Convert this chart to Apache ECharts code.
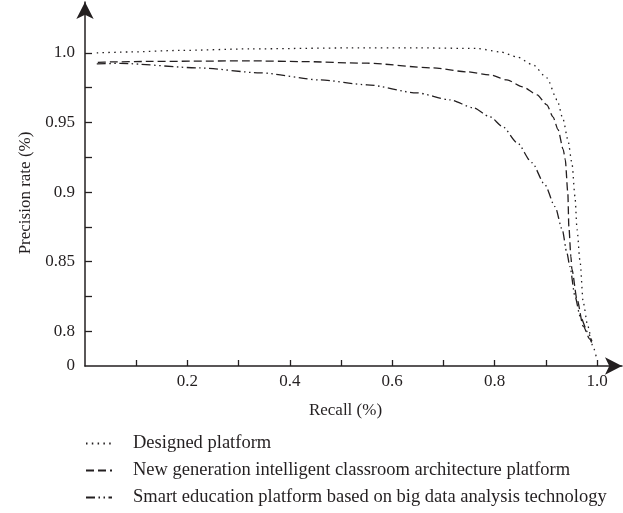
<!DOCTYPE html>
<html>
<head>
<meta charset="utf-8">
<script src="https://cdn.jsdelivr.net/npm/echarts@6/dist/echarts.min.js"></script>
<style>
html,body{margin:0;padding:0;background:#fff;}
#main{width:623px;height:513px;}
</style>
</head>
<body>
<div id="main"></div>
<script>
// Data (recall, precision) — precision values below 0.8 are in the axis' broken segment (bottom tick "0" sits at 0.775)
const seriesNames = [
  'Designed platform',
  'New generation intelligent classroom architecture platform',
  'Smart education platform based on big data analysis technology'
];
const designedRecall = [0.023,0.088,0.186,0.322,0.518,0.654,0.766,0.811,0.844,0.875,0.902,0.922,0.934,0.943,0.951,0.957,0.961,0.967,0.973,0.982,0.992,1.0];
const designedPrecision = [1.000,1.0007,1.0018,1.0029,1.0036,1.0036,1.0032,1.0007,0.9971,0.9914,0.9821,0.9663,0.952,0.9376,0.9211,0.8968,0.8731,0.8495,0.8208,0.8036,0.7892,0.7792];
const newGenRecall = [0.025,0.049,0.127,0.322,0.42,0.551,0.680,0.746,0.791,0.824,0.855,0.883,0.902,0.914,0.924,0.934,0.938,0.943,0.945,0.949,0.951,0.961,0.973,0.986,0.990];
const newGenPrecision = [0.9932,0.9935,0.9939,0.9943,0.9938,0.9926,0.9892,0.9864,0.9842,0.9806,0.9756,0.9699,0.9627,0.9541,0.9448,0.9305,0.9233,0.8996,0.8753,0.8538,0.8444,0.8229,0.8036,0.7943,0.7914];
const smartRecall = [0.023,0.068,0.225,0.342,0.459,0.551,0.648,0.713,0.758,0.791,0.816,0.844,0.873,0.898,0.918,0.932,0.941,0.947,0.957,0.967,0.982,0.990];
const smartPrecision = [0.9921,0.9925,0.9892,0.9857,0.9806,0.9771,0.9713,0.9663,0.9606,0.9541,0.9470,0.9355,0.9211,0.9054,0.8896,0.8731,0.8566,0.8466,0.8251,0.8108,0.7993,0.7928];

const xTickValues = [0.1,0.2,0.3,0.4,0.5,0.6,0.7,0.8,0.9,1.0];
const xLabelValues = [0.2,0.4,0.6,0.8,1.0];
const yTickValues = [0.8,0.825,0.85,0.875,0.9,0.925,0.95,0.975,1.0];
const yLabelValues = [0.775,0.8,0.85,0.9,0.95,1.0];
const yBreakValue = 0.775; // drawn as "0"

const ink = '#231f20';
const font = 'Liberation Serif';
const fs = 17;
const legendFs = 18.5;

function zip(a,b){return a.map((v,i)=>[v,b[i]]);}

const chart = echarts.init(document.getElementById('main'), null, {renderer:'canvas'});
const mkSeries = (name, data, dash) => ({
  name, type:'line', data, showSymbol:false, symbol:'none',
  smooth:0.25, smoothMonotone:'x',
  lineStyle:{color:ink, width:1.3, type:dash},
  itemStyle:{color:ink},
  animation:false
});
chart.setOption({
  animation:false,
  backgroundColor:'#fff',
  grid:{left:85, right:1, top:2, bottom:147, containLabel:false},
  xAxis:{
    type:'value', min:0, max:1.0488,
    name:'Recall (%)', nameLocation:'middle', nameGap:36,
    nameTextStyle:{fontFamily:font, fontSize:fs, color:ink, padding:[0,16,0,0]},
    axisLine:{show:true, lineStyle:{color:ink, width:1.5}, symbol:['none','arrow'], symbolSize:[13,17]},
    axisTick:{show:true, inside:true, length:6, lineStyle:{color:ink, width:1.3}, customValues:xTickValues},
    axisLabel:{show:true, margin:7, fontFamily:font, fontSize:fs, color:ink, customValues:xLabelValues,
      formatter:v=>Number(v).toFixed(1)},
    splitLine:{show:false}
  },
  yAxis:{
    type:'value', min:yBreakValue, max:1.0366,
    name:'Precision rate (%)', nameLocation:'middle', nameGap:50, nameRotate:90,
    nameTextStyle:{fontFamily:font, fontSize:fs, color:ink, padding:[0,18,0,0]},
    axisLine:{show:true, lineStyle:{color:ink, width:1.5}, symbol:['none','arrow'], symbolSize:[13,17]},
    axisTick:{show:true, inside:true, length:7, lineStyle:{color:ink, width:1.3}, customValues:yTickValues},
    axisLabel:{show:true, margin:10, fontFamily:font, fontSize:fs, color:ink, customValues:yLabelValues,
      formatter:v=>{
        if (Math.abs(v-yBreakValue)<1e-6) return '0';
        if (Math.abs(v-1)<1e-6) return '1.0';
        return String(Math.round(v*1000)/1000);
      }},
    splitLine:{show:false}
  },
  legend:{
    orient:'vertical', left:85, top:434, padding:0, itemGap:8,
    itemWidth:26, itemHeight:14,
    itemStyle:{opacity:0},
    formatter:name=>'{t|'+name+'}',
    textStyle:{fontFamily:font, fontSize:legendFs, color:ink,
      rich:{t:{fontFamily:font, fontSize:legendFs, lineHeight:19, color:ink, padding:[0,0,0,16]}}},
    data:seriesNames
  },
  series:[
    mkSeries(seriesNames[0], zip(designedRecall, designedPrecision), [1.5,4.3]),
    mkSeries(seriesNames[1], zip(newGenRecall, newGenPrecision), [8,4]),
    mkSeries(seriesNames[2], zip(smartRecall, smartPrecision), [9,3.5,1.5,3.5,1.5,3.5])
  ]
});
</script>
</body>
</html>
